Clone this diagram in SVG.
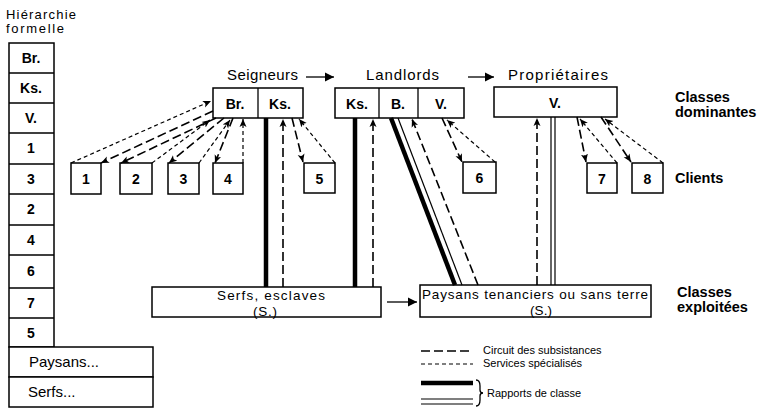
<svg xmlns="http://www.w3.org/2000/svg" width="769" height="408" viewBox="0 0 769 408">
<defs>
<marker id="ah" markerUnits="userSpaceOnUse" markerWidth="9" markerHeight="8" refX="8" refY="4" orient="auto">
<path d="M0,0.5 L8,4 L0,7.5 L2,4 z" fill="#000"/>
</marker>
<marker id="big" markerUnits="userSpaceOnUse" markerWidth="10" markerHeight="10" refX="9" refY="5" orient="auto">
<path d="M0,0.5 L9,5 L0,9.5 z" fill="#000"/>
</marker>
</defs>
<style>
text{font-family:"Liberation Sans",Arial,sans-serif;fill:#000}
.b{font-weight:bold;font-size:14px;text-anchor:middle}
.r{font-size:15px}
.h{font-weight:bold;font-size:14.5px}
.box{fill:#fff;stroke:#000;stroke-width:1.5}
.ln{stroke:#000;stroke-width:1.3;fill:none}
.long{stroke:#000;stroke-width:1.6;stroke-dasharray:9 4;fill:none}
.short{stroke:#000;stroke-width:1.2;stroke-dasharray:4 3;fill:none}
.thick{stroke:#000;stroke-width:4.5;fill:none}
.thin{stroke:#000;stroke-width:1.2;fill:none}
</style>
<rect width="769" height="408" fill="#fff"/>

<g id="hierarchie">
<text x="6" y="19" font-size="13" textLength="70">Hiérarchie</text>
<text x="6" y="32.500" font-size="13" textLength="58">formelle</text>
<rect class="box" x="9" y="43" width="45" height="304"/>
<path class="ln" d="M9,73H54M9,103H54M9,133H54M9,164H54M9,194H54M9,225H54M9,255H54M9,288H54M9,318H54"/>
<text class="b" x="31" y="63">Br.</text>
<text class="b" x="31" y="93">Ks.</text>
<text class="b" x="31" y="123">V.</text>
<text class="b" x="31" y="153">1</text>
<text class="b" x="31" y="184">3</text>
<text class="b" x="31" y="214">2</text>
<text class="b" x="31" y="245">4</text>
<text class="b" x="31" y="276">6</text>
<text class="b" x="31" y="308">7</text>
<text class="b" x="31" y="338">5</text>
<rect class="box" x="9" y="347" width="144" height="30"/>
<text x="29" y="367" font-size="15">Paysans...</text>
<rect class="box" x="9" y="377" width="144" height="30"/>
<text x="28" y="397" font-size="15">Serfs...</text>
</g>

<g id="seigneurs">
<text class="r" x="227" y="80" textLength="71">Seigneurs</text>
<rect class="box" x="213" y="88" width="90" height="30"/>
<path class="ln" d="M258,88V118"/>
<text class="b" x="235" y="109">Br.</text>
<text class="b" x="280" y="109">Ks.</text>
</g>

<g id="landlords">
<text class="r" x="366" y="80" textLength="73">Landlords</text>
<rect class="box" x="335" y="88" width="129" height="30"/>
<path class="ln" d="M379,88V118M418,88V118"/>
<text class="b" x="357" y="109">Ks.</text>
<text class="b" x="398" y="109">B.</text>
<text class="b" x="441" y="109">V.</text>
</g>

<g id="proprietaires">
<text class="r" x="508" y="80" textLength="100">Propriétaires</text>
<rect class="box" x="494" y="87" width="123" height="30"/>
<text class="b" x="555" y="108">V.</text>
</g>

<g id="clients">
<rect class="box" x="71" y="163" width="30" height="31"/><text class="b" x="86" y="184">1</text>
<rect class="box" x="120" y="163" width="32" height="31"/><text class="b" x="136" y="184">2</text>
<rect class="box" x="168" y="163" width="31" height="31"/><text class="b" x="183.500" y="184">3</text>
<rect class="box" x="213" y="163" width="30" height="31"/><text class="b" x="228" y="184">4</text>
<rect class="box" x="304" y="163" width="31" height="30"/><text class="b" x="319.500" y="184">5</text>
<rect class="box" x="463" y="162" width="33" height="31"/><text class="b" x="479.500" y="183">6</text>
<rect class="box" x="587" y="163" width="30" height="30"/><text class="b" x="602" y="184">7</text>
<rect class="box" x="632" y="163" width="31" height="30"/><text class="b" x="647.500" y="184">8</text>
</g>

<g id="serfs">
<rect class="box" x="152" y="287" width="229" height="30"/>
<text x="217" y="300" font-size="13.500" textLength="108">Serfs, esclaves</text>
<text x="253" y="315.500" font-size="13.500" textLength="24">(S.)</text>
</g>

<g id="paysans">
<rect class="box" x="420" y="285" width="231" height="32"/>
<text x="422" y="299" font-size="13.500" textLength="226">Paysans tenanciers ou sans terre</text>
<text x="530" y="315" font-size="13.500" textLength="22">(S.)</text>
</g>

<g id="labels">
<text class="h" x="675" y="102">Classes</text>
<text class="h" x="675" y="117">dominantes</text>
<text class="h" x="675" y="183">Clients</text>
<text class="h" x="677" y="297">Classes</text>
<text class="h" x="677" y="312">exploitées</text>
</g>

<g id="connectors">
<path class="ln" stroke-width="2" d="M306,77H334" marker-end="url(#big)"/>
<path class="ln" stroke-width="2" d="M468,77H494" marker-end="url(#big)"/>
<path class="ln" stroke-width="2" d="M387,302H417" marker-end="url(#big)"/>

<path class="short" d="M71,163L211,101" marker-end="url(#ah)"/>
<path class="long" d="M213,111L101,163" marker-end="url(#ah)"/>
<path class="short" d="M152,163L210,120" marker-end="url(#ah)"/>
<path class="long" d="M216,118L121,163" marker-end="url(#ah)"/>
<path class="short" d="M199,163L230,120" marker-end="url(#ah)"/>
<path class="long" d="M224,118L169,163" marker-end="url(#ah)"/>
<path class="long" d="M233,118L215,163" marker-end="url(#ah)"/>
<path class="short" d="M243,163V119" marker-end="url(#ah)"/>

<path class="long" d="M292,118L303,162" marker-end="url(#ah)"/>
<path class="short" d="M335,163L299,119" marker-end="url(#ah)"/>
<path class="long" d="M442,118L462,162" marker-end="url(#ah)"/>
<path class="short" d="M495,162L447,120" marker-end="url(#ah)"/>
<path class="long" d="M577,117L586,162" marker-end="url(#ah)"/>
<path class="short" d="M617,163L580,119" marker-end="url(#ah)"/>
<path class="long" d="M601,117L631,162" marker-end="url(#ah)"/>
<path class="short" d="M663,163L605,119" marker-end="url(#ah)"/>

<path class="thick" d="M266,118V287"/>
<path class="long" d="M283,287V119" marker-end="url(#ah)"/>
<path class="thick" d="M355,118V287"/>
<path class="long" d="M373,287V119" marker-end="url(#ah)"/>
<path class="thick" d="M391,118L455,285"/>
<path class="thin" d="M398,118L462,285"/>
<path class="long" d="M478,285L412,119" marker-end="url(#ah)"/>
<path class="long" d="M537,285V118" marker-end="url(#ah)"/>
<path class="thin" d="M551,117V285M555,117V285"/>
</g>

<g id="legend">
<path class="long" d="M421,351H473"/>
<text x="483" y="354" font-size="11">Circuit des subsistances</text>
<path class="short" d="M421,364H473"/>
<text x="483" y="367" font-size="11">Services spécialisés</text>
<path class="thick" d="M421,383H473"/>
<path class="thin" d="M421,399H473M421,404H473"/>
<path class="ln" stroke-width="1" d="M476,380Q480,380 480,386V390Q480,393 483,393Q480,393 480,396V400Q480,406 476,406"/>
<text x="487" y="397" font-size="11">Rapports de classe</text>
</g>
</svg>
